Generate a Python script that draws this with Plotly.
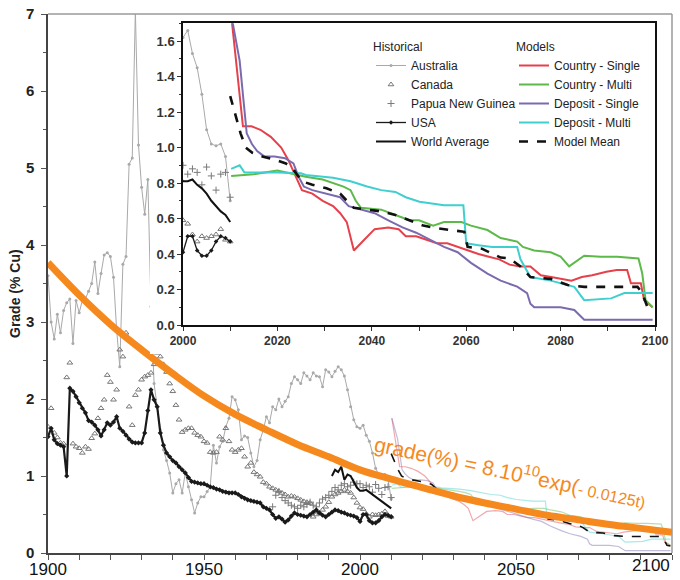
import plotly.graph_objects as go

# ---------------- data ----------------
aus_years = list(range(1900, 2011))
aus_grade = [3.60, 3.00, 2.78, 3.10, 2.86, 3.15, 3.25, 3.30, 2.72, 3.28,
             3.12, 3.28, 3.30, 3.40, 3.50, 3.78, 3.37, 3.63, 3.87, 3.90,
             3.85, 3.58, 2.90, 2.42, 3.75, 3.85, 5.05, 5.13, 7.05, 5.30,
             4.75, 4.40, 4.85, 3.20, 2.20, 1.90, 1.60, 1.34, 1.20, 1.04,
             0.78, 0.90, 0.95, 0.78, 1.04, 0.86, 0.69, 0.52, 0.65, 0.73,
             0.73, 0.80, 0.86, 1.40, 1.17, 1.38, 1.45, 1.64, 1.75, 2.03,
             1.99, 1.86, 1.47, 1.52, 1.50, 1.30, 1.12, 1.20, 1.47, 1.60,
             1.77, 1.69, 1.90, 1.86, 2.00, 1.90, 1.97, 2.03, 2.20, 2.29,
             2.25, 2.20, 2.34, 2.30, 2.25, 2.34, 2.30, 2.29, 2.16, 2.38,
             2.35, 2.29, 2.36, 2.42, 2.38, 2.30, 2.12, 1.90, 1.73, 1.64,
             1.62, 1.66, 1.53, 1.45, 1.30, 1.10, 1.02, 1.01, 1.02, 0.95, 0.70]

can_years = list(range(1900, 2011))
can_grade = [1.64, 1.88, 1.56, 1.50, 1.43, 1.42, 2.28, 2.47, 1.42, 1.38,
             1.36, 1.30, 1.38, 1.35, 1.49, 1.55, 1.75, 1.88, 1.99, 2.31,
             2.22, 1.99, 2.12, 2.64, 2.55, 2.86, 1.90, 1.66, 2.05, 2.12,
             2.25, 2.29, 2.31, 2.34, 2.45, 2.60, 2.55, 2.45, 2.35, 2.20,
             2.10, 1.92, 1.73, 1.57, 1.60, 1.62, 1.62, 1.56, 1.53, 1.51,
             1.45, 1.43, 1.31, 1.30, 1.31, 1.51, 1.47, 1.62, 1.45, 1.34,
             1.31, 1.34, 1.36, 1.25, 1.12, 1.17, 1.05, 1.02, 0.99, 0.92,
             0.90, 0.86, 0.84, 0.82, 0.80, 0.78, 0.76, 0.73, 0.74, 0.73,
             0.71, 0.69, 0.67, 0.66, 0.65, 0.47, 0.50, 0.52, 0.56, 0.60,
             0.66, 0.73, 0.76, 0.78, 0.80, 0.82, 0.80, 0.78, 0.72, 0.65,
             0.59, 0.57, 0.51, 0.47, 0.50, 0.49, 0.50, 0.51, 0.54, 0.48, 0.47]

usa_years = list(range(1900, 2011))
usa_grade = [1.51, 1.62, 1.47, 1.42, 1.40, 1.38, 1.00, 2.14, 2.10, 2.03,
             1.95, 1.88, 1.82, 1.72, 1.70, 1.66, 1.60, 1.52, 1.60, 1.69,
             1.66, 1.70, 1.77, 1.62, 1.58, 1.53, 1.48, 1.44, 1.43, 1.43,
             1.43, 1.56, 1.85, 2.12, 1.99, 1.90, 1.56, 1.40, 1.30, 1.25,
             1.20, 1.17, 1.12, 1.08, 1.04, 0.98, 0.93, 0.92, 0.91, 0.90,
             0.90, 0.88, 0.86, 0.85, 0.83, 0.82, 0.80, 0.79, 0.78, 0.78,
             0.78, 0.76, 0.73, 0.71, 0.69, 0.68, 0.67, 0.66, 0.65, 0.60,
             0.58, 0.56, 0.50, 0.45, 0.47, 0.44, 0.40, 0.43, 0.48, 0.52,
             0.50, 0.49, 0.48, 0.47, 0.50, 0.53, 0.56, 0.52, 0.49, 0.47,
             0.50, 0.53, 0.56, 0.55, 0.53, 0.52, 0.50, 0.49, 0.48, 0.46,
             0.41, 0.50, 0.50, 0.42, 0.39, 0.39, 0.42, 0.47, 0.50, 0.49, 0.47]

png_years = list(range(1972, 2011))
png_grade = [0.60, 0.75, 0.80, 0.72, 0.68, 0.65, 0.62, 0.60,
             0.58, 0.62, 0.60, 0.63, 0.66, 0.62, 0.60, 0.65, 0.70, 0.72,
             0.75, 0.80, 0.85, 0.82, 0.88, 0.90, 0.86, 0.88, 0.92, 0.90,
             0.90, 0.85, 0.88, 0.86, 0.79, 0.89, 0.84, 0.76, 0.85, 0.86, 0.72]

world_years = list(range(1991, 2011))
world_grade = [1.00, 1.08, 1.05, 1.12, 0.95, 1.02, 1.00, 0.92, 0.85,
               0.81, 0.81, 0.82, 0.79, 0.77, 0.74, 0.70, 0.67, 0.64, 0.62, 0.58]

cs_years = [2010.2, 2011.5, 2012.7, 2014.5, 2016.4, 2018.6, 2020.8, 2022.3, 2023.7, 2025.2,
            2027.4, 2029.6, 2031.8, 2033.3, 2034.7, 2036.2, 2038.4, 2040.6, 2043.5, 2045.7,
            2047.2, 2049.4, 2051.6, 2053.8, 2056.0, 2058.2, 2060.4, 2062.6, 2064.8, 2067.0,
            2069.2, 2071.4, 2073.6, 2075.8, 2078.0, 2080.1, 2082.3, 2084.5, 2086.7, 2089.7,
            2091.9, 2094.1, 2094.9, 2097.0, 2097.7, 2099.5]
cs_grade = [1.75, 1.40, 1.12, 1.12, 1.10, 1.06, 1.00, 0.93, 0.85, 0.76,
            0.74, 0.70, 0.67, 0.63, 0.58, 0.42, 0.48, 0.54, 0.55, 0.54,
            0.50, 0.50, 0.48, 0.46, 0.46, 0.44, 0.42, 0.40, 0.385, 0.37,
            0.34, 0.33, 0.33, 0.28, 0.27, 0.26, 0.25, 0.27, 0.28, 0.30,
            0.31, 0.31, 0.235, 0.235, 0.14, 0.10]

cm_years = [2010.2, 2015.0, 2020.0, 2023.7, 2026.0, 2029.6, 2031.8, 2034.0, 2035.5, 2036.6,
            2037.7, 2042.0, 2045.0, 2048.0, 2050.0, 2053.0, 2055.3, 2059.0, 2061.0, 2064.5,
            2067.3, 2070.8, 2072.0, 2074.4, 2077.9, 2080.0, 2081.8, 2085.0, 2088.5, 2092.0,
            2096.5, 2097.3, 2098.0, 2099.5]
cm_grade = [0.84, 0.85, 0.87, 0.85, 0.835, 0.82, 0.80, 0.78, 0.76, 0.70,
            0.66, 0.65, 0.62, 0.59, 0.59, 0.56, 0.58, 0.58, 0.56, 0.535,
            0.49, 0.47, 0.44, 0.42, 0.41, 0.385, 0.33, 0.39, 0.385, 0.385,
            0.375, 0.29, 0.14, 0.10]

ds_years = [2010.2, 2012.0, 2012.8, 2013.5, 2014.6, 2015.7, 2017.2, 2019.4, 2021.6, 2023.4,
            2024.5, 2025.6, 2027.4, 2030.4, 2033.3, 2035.1, 2037.7, 2040.6, 2043.5, 2046.5,
            2049.4, 2052.3, 2055.3, 2058.2, 2061.0, 2064.5, 2067.3, 2070.8, 2072.9, 2073.6,
            2074.4, 2080.0, 2082.9, 2085.0, 2099.5]
ds_grade = [1.75, 1.49, 1.27, 1.08, 1.02, 0.98, 0.95, 0.95, 0.94, 0.91,
            0.835, 0.78, 0.76, 0.74, 0.72, 0.67, 0.65, 0.63, 0.59, 0.55,
            0.52, 0.48, 0.44, 0.41, 0.35, 0.29, 0.25, 0.216, 0.18, 0.12,
            0.10, 0.10, 0.085, 0.03, 0.03]

dm_years = [2010.2, 2012.0, 2013.0, 2020.0, 2025.0, 2026.0, 2031.8, 2035.5, 2039.0, 2042.0,
            2045.0, 2047.2, 2050.1, 2053.0, 2055.3, 2059.4, 2060.0, 2062.6, 2065.5, 2070.8,
            2071.5, 2073.6, 2077.9, 2082.9, 2085.0, 2090.7, 2093.5, 2099.5]
dm_grade = [0.88, 0.90, 0.86, 0.86, 0.855, 0.845, 0.83, 0.81, 0.78, 0.76,
            0.75, 0.72, 0.695, 0.685, 0.675, 0.675, 0.46, 0.45, 0.44, 0.44,
            0.37, 0.27, 0.25, 0.215, 0.14, 0.15, 0.18, 0.18]

mean_years = [2010.0, 2011.1, 2012.2, 2013.3, 2014.7, 2016.8, 2019.7, 2021.8, 2023.0, 2025.2,
              2027.4, 2030.4, 2033.3, 2034.7, 2036.2, 2039.1, 2042.0, 2045.0, 2048.0, 2050.9,
              2053.8, 2056.7, 2059.6, 2060.3, 2063.3, 2067.3, 2069.2, 2071.5, 2073.6, 2077.9,
              2081.5, 2085.0, 2096.3, 2097.3, 2098.4, 2099.5]
mean_grade = [1.29, 1.18, 1.08, 1.00, 0.97, 0.95, 0.93, 0.91, 0.89, 0.81,
              0.79, 0.77, 0.74, 0.70, 0.66, 0.65, 0.64, 0.62, 0.59, 0.56,
              0.545, 0.535, 0.525, 0.44, 0.43, 0.38, 0.375, 0.33, 0.27, 0.26,
              0.225, 0.215, 0.215, 0.18, 0.10, 0.09]

fit_years = [1900, 1910, 1920, 1930, 1940, 1950, 1960, 1970, 1980, 1990, 2000,
             2010, 2020, 2030, 2040, 2050, 2060, 2070, 2080, 2090, 2100]
fit_grade = [3.77, 3.35, 2.97, 2.64, 2.33, 2.04, 1.80, 1.60, 1.41, 1.25, 1.08,
             0.96, 0.85, 0.74, 0.65, 0.57, 0.49, 0.43, 0.37, 0.32, 0.27]

main_xticks = [1900, 1950, 2000, 2050]
main_last_tick = 2100
inset_xticks = [2000, 2020, 2040, 2060, 2080, 2100]
inset_yticks = [0.0, 0.2, 0.4, 0.6, 0.8, 1.0, 1.2, 1.4, 1.6]

# ---------------- layout helpers ----------------
W, H = 680, 580
L, R, T, B = 48, 8, 14, 27
PW, PH = W - L - R, H - T - B


def fx(px):
    return (px - L) / PW


def fy(py):
    return (H - B - py) / PH


SANS = "Liberation Sans, Arial, sans-serif"
ORANGE = "#F5891E"

fig = go.Figure()


def add_historical(xa, ya, main):
    show = not main
    fig.add_trace(go.Scatter(
        x=aus_years, y=aus_grade, name="Australia", mode="lines+markers",
        line=dict(color="#a9a9a9", width=1), marker=dict(size=3, color="#a9a9a9"),
        xaxis=xa, yaxis=ya, showlegend=show, legend="legend"))
    fig.add_trace(go.Scatter(
        x=can_years, y=can_grade, name="Canada", mode="markers",
        marker=dict(symbol="triangle-up-open", size=5, color="#777777", line=dict(width=1)),
        xaxis=xa, yaxis=ya, showlegend=show, legend="legend"))
    fig.add_trace(go.Scatter(
        x=png_years, y=png_grade, name="Papua New Guinea", mode="markers",
        marker=dict(symbol="cross-thin-open", size=5, color="#7a7a7a", line=dict(width=1, color="#7a7a7a")),
        xaxis=xa, yaxis=ya, showlegend=show, legend="legend"))
    fig.add_trace(go.Scatter(
        x=usa_years, y=usa_grade, name="USA", mode="lines+markers",
        line=dict(color="#1a1a1a", width=2.2 if main else 1.3),
        marker=dict(symbol="diamond", size=4 if main else 3.5, color="#1a1a1a"),
        xaxis=xa, yaxis=ya, showlegend=show, legend="legend"))
    fig.add_trace(go.Scatter(
        x=world_years, y=world_grade, name="World Average", mode="lines",
        line=dict(color="#111111", width=2),
        xaxis=xa, yaxis=ya, showlegend=show, legend="legend"))


def add_models(xa, ya, main):
    show = not main
    w = 1.2 if main else 2
    op = 0.45 if main else 1.0
    for nm, xs, ys, col in [("Country - Single", cs_years, cs_grade, "#E5414B"),
                            ("Country - Multi", cm_years, cm_grade, "#5DB94A"),
                            ("Deposit - Single", ds_years, ds_grade, "#7B6BAE"),
                            ("Deposit - Multi", dm_years, dm_grade, "#3FCFCF")]:
        fig.add_trace(go.Scatter(
            x=xs, y=ys, name=nm, mode="lines", line=dict(color=col, width=w),
            opacity=op, xaxis=xa, yaxis=ya, showlegend=show, legend="legend2"))
    fig.add_trace(go.Scatter(
        x=mean_years, y=mean_grade, name="Model Mean", mode="lines",
        line=dict(color="#111111", width=1.6 if main else 2.6, dash="dash"),
        xaxis=xa, yaxis=ya, showlegend=show, legend="legend2"))


# main chart
add_historical("x", "y", True)
add_models("x", "y", True)

# white cover behind inset (empty subplot)
fig.add_trace(go.Scatter(x=[None], y=[None], xaxis="x2", yaxis="y2",
                         showlegend=False, hoverinfo="skip"))

# inset chart
add_historical("x3", "y3", False)
add_models("x3", "y3", False)

# fitted exponential curve
fig.add_trace(go.Scatter(
    x=fit_years, y=fit_grade, mode="lines", line=dict(color=ORANGE, width=7, shape="spline"),
    xaxis="x", yaxis="y", showlegend=False, hoverinfo="skip"))

legend_title_font = dict(family=SANS, size=20, color="#222")

fig.update_layout(
    width=W, height=H,
    margin=dict(l=L, r=R, t=T, b=B, autoexpand=False),
    paper_bgcolor="white", plot_bgcolor="white",
    xaxis=dict(domain=[0, 1], range=[1900, 2100], anchor="y", automargin=False,
               tickvals=main_xticks, ticks="outside", ticklen=4, tickcolor="#555",
               minor=dict(dtick=10, ticks="outside", ticklen=5, tickcolor="#555"),
               showline=True, linecolor="#444", linewidth=1.5,
               showgrid=False, zeroline=False, ticklabelstandoff=-4,
               tickfont=dict(family=SANS, size=17, color="#111")),
    yaxis=dict(domain=[0, 1], range=[0, 7], anchor="x", automargin=False,
               dtick=1, ticks="outside", ticklen=5, tickcolor="#555",
               minor=dict(dtick=0.5, ticks="outside", ticklen=3, tickcolor="#555"),
               showline=True, linecolor="#444", linewidth=1.5,
               showgrid=False, zeroline=False, ticklabelstandoff=4,
               tickfont=dict(family=SANS, size=15, color="#222", weight="bold")),
    xaxis2=dict(domain=[fx(150), fx(668)], range=[0, 1], anchor="y2", visible=False,
                automargin=False),
    yaxis2=dict(domain=[fy(354), 1.0], range=[0, 1], anchor="x2", visible=False,
                automargin=False),
    xaxis3=dict(domain=[fx(183), fx(655)], range=[2000, 2100], anchor="y3", automargin=False,
                tickvals=inset_xticks, ticks="outside", ticklen=4, tickcolor="#333",
                minor=dict(dtick=10, ticks="outside", ticklen=4, tickcolor="#333"),
                showline=True, mirror=True, linecolor="#111", linewidth=1.5,
                showgrid=False, zeroline=False,
                tickfont=dict(family=SANS, size=12, color="#333", weight="bold")),
    yaxis3=dict(domain=[fy(325), fy(23.3)], range=[0, 1.7], anchor="x3", automargin=False,
                tickvals=inset_yticks, tickformat=".1f", ticks="outside", ticklen=4,
                tickcolor="#333",
                minor=dict(dtick=0.1, ticks="outside", ticklen=2, tickcolor="#333"),
                showline=True, mirror=True, linecolor="#111", linewidth=1.5,
                showgrid=False, zeroline=False,
                tickfont=dict(family=SANS, size=13, color="#333", weight="bold")),
    legend=dict(x=fx(371), y=fy(25), xanchor="left", yanchor="top",
                bgcolor="rgba(0,0,0,0)", borderwidth=0,
                title=dict(text="<span style='font-size:12px'>Historical</span>",
                           font=legend_title_font),
                font=dict(family=SANS, size=12, color="#222"), tracegroupgap=0),
    legend2=dict(x=fx(514), y=fy(25), xanchor="left", yanchor="top",
                 bgcolor="rgba(0,0,0,0)", borderwidth=0,
                 title=dict(text="<span style='font-size:12px'>Models</span>",
                            font=legend_title_font),
                 font=dict(family=SANS, size=12, color="#222"), tracegroupgap=0),
    showlegend=True,
)

fig.add_annotation(text="Grade (% Cu)", xref="paper", yref="paper",
                   x=fx(15), y=fy(294), textangle=-90, showarrow=False,
                   xanchor="center", yanchor="middle",
                   font=dict(family=SANS, size=14, color="#222", weight="bold"))

# last main x label kept inside the page, as in the original
fig.add_annotation(text=str(main_last_tick), xref="paper", yref="paper",
                   x=1.0, y=0, xanchor="right", yanchor="top", yshift=-1,
                   showarrow=False, font=dict(family=SANS, size=17, color="#111"))

fig.add_annotation(
    text="grade(%) = 8.10<sup>10</sup>exp(<span style='font-size:16px'>- 0.0125t)</span>",
    xref="x", yref="y", x=2048.1, y=1.065, textangle=12, showarrow=False,
    xanchor="center", yanchor="middle",
    font=dict(family=SANS, size=21, color=ORANGE))

# top and right borders of the main frame
fig.add_shape(type="line", xref="paper", yref="paper", x0=0, x1=1, y0=1, y1=1,
              line=dict(color="#9a9a9a", width=1.5), layer="above")
fig.add_shape(type="line", xref="paper", yref="paper", x0=1, x1=1, y0=0, y1=1,
              line=dict(color="#9a9a9a", width=1.5), layer="above")

fig.write_html("out.html", config={"displayModeBar": False},
               post_script="document.body.style.margin='0px';")
